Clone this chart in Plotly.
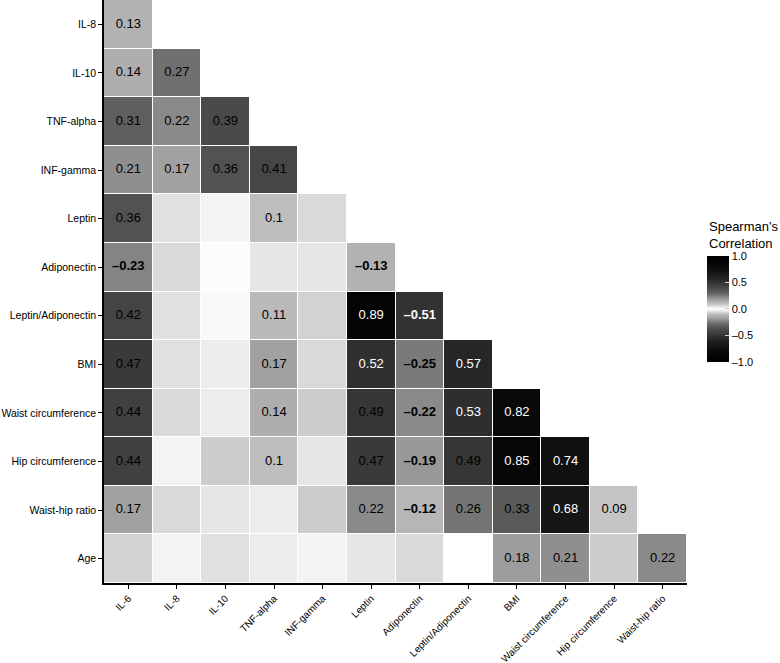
import plotly.graph_objects as go

# row / column variables of the lower triangle
rows = ["IL-8", "IL-10", "TNF-alpha", "INF-gamma", "Leptin", "Adiponectin",
        "Leptin/Adiponectin", "BMI", "Waist circumference", "Hip circumference",
        "Waist-hip ratio", "Age"]
cols = ["IL-6", "IL-8", "IL-10", "TNF-alpha", "INF-gamma", "Leptin", "Adiponectin",
        "Leptin/Adiponectin", "BMI", "Waist circumference", "Hip circumference",
        "Waist-hip ratio"]

# Spearman's rho, row by row (lower triangle only)
rho = [
    [0.13],
    [0.14, 0.27],
    [0.31, 0.22, 0.39],
    [0.21, 0.17, 0.36, 0.41],
    [0.36, 0.05, 0.02, 0.10, 0.06],
    [-0.23, 0.06, 0.005, 0.04, 0.04, -0.13],
    [0.42, 0.05, 0.01, 0.11, 0.07, 0.89, -0.51],
    [0.47, 0.05, 0.03, 0.17, 0.06, 0.52, -0.25, 0.57],
    [0.44, 0.06, 0.03, 0.14, 0.08, 0.49, -0.22, 0.53, 0.82],
    [0.44, 0.02, 0.08, 0.10, 0.04, 0.47, -0.19, 0.49, 0.85, 0.74],
    [0.17, 0.06, 0.04, 0.03, 0.08, 0.22, -0.12, 0.26, 0.33, 0.68, 0.09],
    [0.07, 0.02, 0.05, 0.03, 0.02, 0.04, 0.06, 0.0, 0.18, 0.21, 0.08, 0.22],
]

# 1 = significant (value printed in the cell)
signif = [
    [1],
    [1, 1],
    [1, 1, 1],
    [1, 1, 1, 1],
    [1, 0, 0, 1, 0],
    [1, 0, 0, 0, 0, 1],
    [1, 0, 0, 1, 0, 1, 1],
    [1, 0, 0, 1, 0, 1, 1, 1],
    [1, 0, 0, 1, 0, 1, 1, 1, 1],
    [1, 0, 0, 1, 0, 1, 1, 1, 1, 1],
    [1, 0, 0, 0, 0, 1, 1, 1, 1, 1, 1],
    [0, 0, 0, 0, 0, 0, 0, 0, 1, 1, 0, 1],
]

colorbar_ticks = [-1.0, -0.5, 0.0, 0.5, 1.0]

# full matrix with blanks above the diagonal
z = [r + [None] * (len(cols) - len(r)) for r in rho]

# grey level as a function of |rho|
grey = [(0.0, 255), (0.05, 224), (0.1, 190), (0.15, 170), (0.2, 148), (0.25, 122),
        (0.3, 98), (0.35, 84), (0.4, 72), (0.5, 52), (0.6, 32), (0.7, 20),
        (0.8, 10), (0.9, 3), (1.0, 0)]
scale = []
for a, g in reversed(grey):
    scale.append([(1 - a) / 2, f"rgb({g},{g},{g})"])
for a, g in grey[1:]:
    scale.append([(1 + a) / 2, f"rgb({g},{g},{g})"])


def fmt(v):
    s = f"{v:.2f}".rstrip("0").rstrip(".")
    s = s.replace("-", "\u2013")
    return f"<b>{s}</b>" if v < 0 else s


tx, ty, tt, tc = [], [], [], []
for i, r in enumerate(rho):
    for j, v in enumerate(r):
        if signif[i][j]:
            tx.append(cols[j])
            ty.append(rows[i])
            tt.append(fmt(v))
            tc.append("white" if abs(v) > 0.5 else "black")

FONT = "Liberation Sans, Arial, Helvetica, sans-serif"

fig = go.Figure()
fig.add_trace(go.Heatmap(
    z=z, x=cols, y=rows,
    zmin=-1, zmax=1,
    colorscale=scale,
    xgap=1, ygap=1,
    hoverongaps=False,
    colorbar=dict(
        thickness=22,
        len=106, lenmode="pixels",
        x=1.034, xanchor="left", xpad=0,
        y=0.47, yanchor="middle", ypad=0,
        tickvals=colorbar_ticks,
        ticktext=[f"{t:.1f}".replace("-", "\u2013") for t in colorbar_ticks],
        ticks="inside", ticklen=4, tickcolor="#d0d0d0",
        tickfont=dict(size=11, color="black"),
        outlinewidth=0,
    ),
))
fig.add_trace(go.Scatter(
    x=tx, y=ty, text=tt, mode="text",
    textfont=dict(size=13, color=tc, family=FONT),
    hoverinfo="skip", showlegend=False,
))

fig.add_annotation(
    text="Spearman's<br>Correlation", xref="paper", yref="paper",
    x=1.034, y=0.628, xanchor="left", yanchor="top", align="left",
    showarrow=False, font=dict(size=13, color="black", family=FONT),
)

fig.update_layout(
    width=780, height=663,
    margin=dict(l=104, r=93, t=0, b=80),
    plot_bgcolor="white", paper_bgcolor="white",
    font=dict(family=FONT, size=11, color="black"),
    showlegend=False,
)
fig.update_xaxes(
    categoryorder="array", categoryarray=cols, range=[-0.5, 11.5],
    tickangle=-45, ticks="outside", ticklen=4, tickcolor="black",
    showline=True, linecolor="black", linewidth=1.5,
    showgrid=False, zeroline=False, automargin=False,
    tickfont=dict(size=10, color="black"),
)
fig.update_yaxes(
    categoryorder="array", categoryarray=rows, range=[11.5, -0.5],
    ticks="outside", ticklen=4, tickcolor="black",
    showline=True, linecolor="black", linewidth=1.5,
    showgrid=False, zeroline=False, automargin=False,
    tickfont=dict(size=10.5, color="black"),
)

# drop the page's default body margin so the figure fills the window
fig.write_html("out.html", config={"displayModeBar": False},
               post_script="document.body.style.margin='0';")
